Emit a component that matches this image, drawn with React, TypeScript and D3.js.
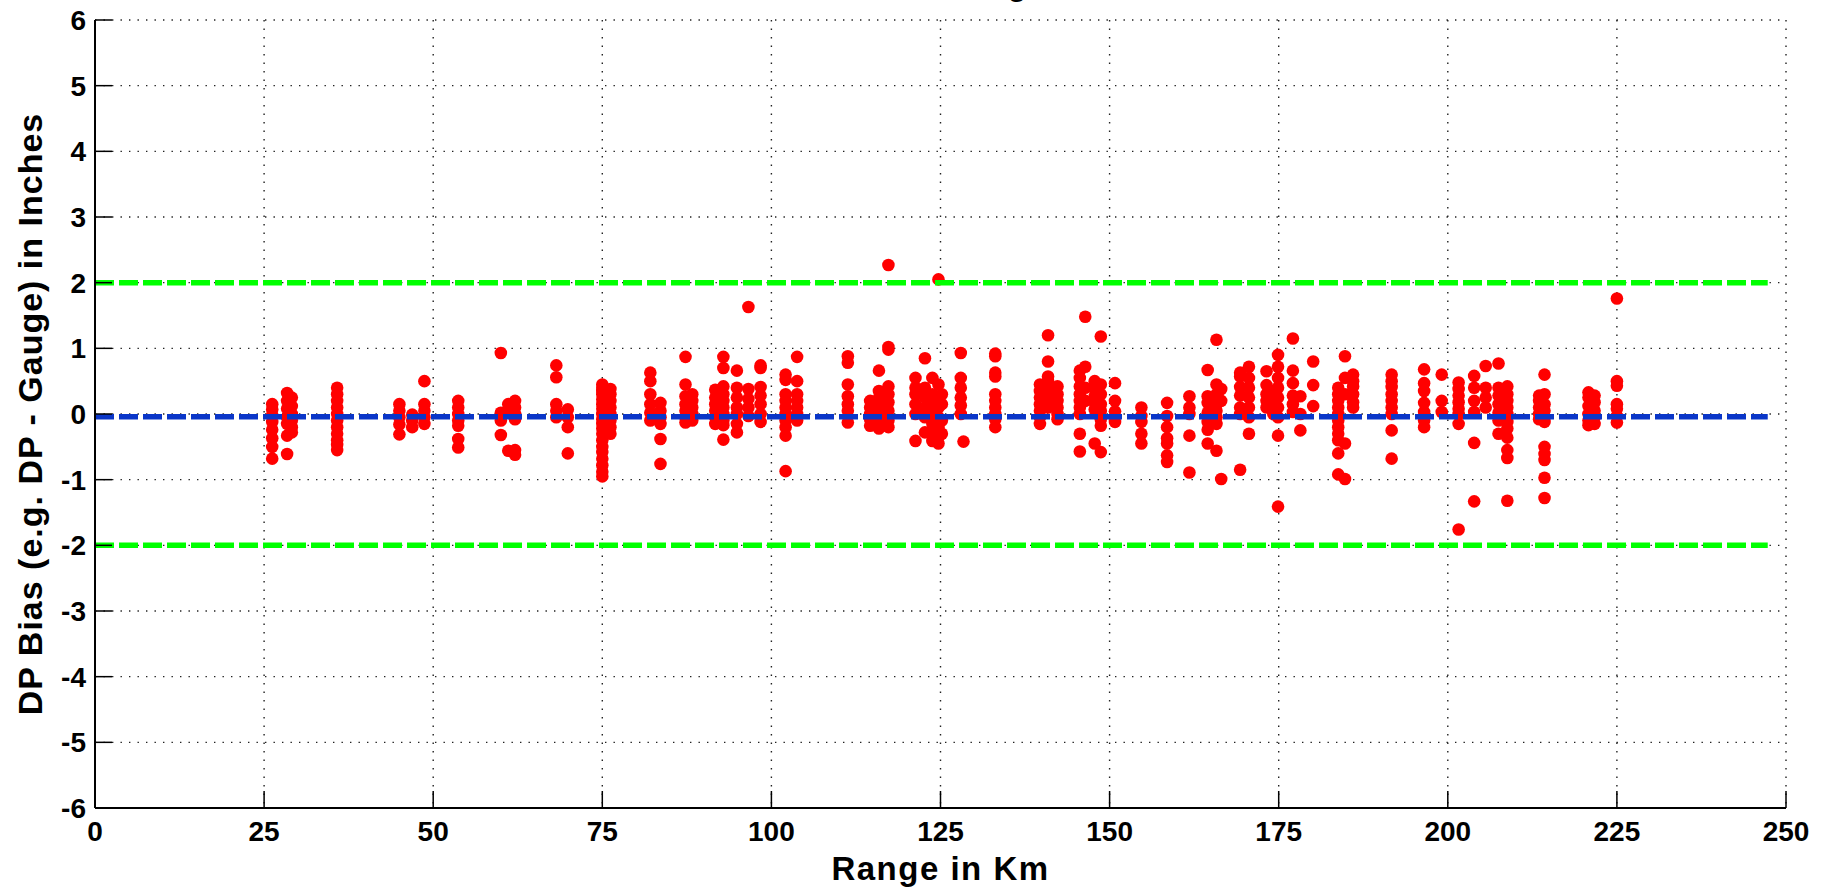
import React from "react";
import * as d3 from "d3";

// Station ranges (km) and the DP bias values (inches) observed at each
const stationRanges: number[] = [
  26.2, 28.4, 29.1, 35.8, 45.0, 46.9, 48.7, 53.7, 60.0, 61.1, 62.1, 68.2, 69.9,
  75.0, 76.2, 82.1, 83.6, 87.3, 88.3, 91.7, 92.9, 94.9, 96.6, 98.4, 102.1, 103.8,
  111.3, 114.6, 115.9, 117.3, 121.3, 122.7, 123.8, 124.7, 125.2, 128.0, 128.4, 133.1,
  139.7, 140.9, 142.3, 145.6, 146.4, 147.8, 148.7, 150.8, 154.7, 158.5, 161.8, 164.5,
  165.8, 166.5, 169.3, 170.6, 173.2, 174.2, 174.9, 177.1, 178.2, 180.1, 183.8, 184.8,
  186.0, 191.7, 196.5, 199.1, 201.6, 203.9, 205.6, 207.5, 208.8, 213.5, 214.3, 220.8,
  221.7, 225.0,
];

const stationBiases: number[][] = [
  [0.15, 0.07, -0.02, -0.12, -0.24, -0.37, -0.5, -0.68],
  [0.32, 0.2, 0.08, -0.05, -0.15, -0.33, -0.61],
  [0.25, 0.12, 0.0, -0.1, -0.2, -0.28],
  [0.4, 0.3, 0.2, 0.1, 0.0, -0.1, -0.2, -0.3, -0.4, -0.47, -0.55],
  [0.15, 0.05, -0.05, -0.16, -0.31],
  [-0.01, -0.1, -0.2],
  [0.5, 0.15, 0.05, -0.05, -0.15],
  [0.2, 0.1, 0.0, -0.1, -0.18, -0.38, -0.51],
  [0.93, 0.02, -0.1, -0.32],
  [0.15, 0.05, -0.56],
  [0.2, 0.1, 0.0, -0.08, -0.55, -0.62],
  [0.74, 0.56, 0.15, 0.05, -0.05],
  [0.07, -0.05, -0.2, -0.6],
  [0.45, 0.4, 0.35, 0.3, 0.22, 0.15, 0.08, 0.0, -0.08, -0.15, -0.22, -0.3, -0.4, -0.5, -0.58, -0.68, -0.78, -0.88, -0.95],
  [0.38, 0.3, 0.2, 0.1, 0.0, -0.1, -0.2, -0.3],
  [0.63, 0.5, 0.3, 0.15, 0.02, -0.1],
  [0.17, 0.05, -0.05, -0.15, -0.38, -0.76],
  [0.87, 0.45, 0.27, 0.15, 0.05, -0.05, -0.13],
  [0.3, 0.2, 0.1, 0.0, -0.1],
  [0.37, 0.25, 0.15, 0.05, -0.05, -0.15],
  [0.87, 0.7, 0.42, 0.3, 0.2, 0.1, 0.0, -0.1, -0.17, -0.39],
  [0.66, 0.4, 0.25, 0.1, 0.0, -0.15, -0.28],
  [1.63, 0.38, 0.23, 0.1, -0.03],
  [0.74, 0.7, 0.41, 0.28, 0.15, 0.0, -0.12],
  [0.6, 0.52, 0.3, 0.2, 0.1, 0.0, -0.1, -0.2, -0.33, -0.87],
  [0.87, 0.5, 0.3, 0.2, 0.1, 0.0, -0.1],
  [0.88, 0.78, 0.45, 0.27, 0.15, 0.05, -0.13],
  [0.2, 0.1, 0.0, -0.08, -0.18],
  [0.66, 0.35, 0.25, 0.15, 0.05, -0.05, -0.15, -0.22],
  [2.27, 1.02, 0.98, 0.42, 0.3, 0.18, 0.05, -0.1, -0.2],
  [0.55, 0.4, 0.3, 0.15, 0.0, -0.41],
  [0.85, 0.4, 0.25, 0.1, -0.05, -0.28],
  [0.55, 0.3, 0.15, 0.0, -0.15, -0.3, -0.41],
  [2.05, 0.45, 0.25, 0.1, -0.05, -0.2, -0.35, -0.45],
  [0.3, 0.15, -0.1, -0.3],
  [0.93, 0.55, 0.4, 0.25, 0.13, 0.0],
  [-0.42],
  [0.92, 0.88, 0.63, 0.57, 0.3, 0.2, 0.1, 0.0, -0.08, -0.2],
  [0.45, 0.35, 0.25, 0.15, 0.05, -0.05, -0.15],
  [1.2, 0.8, 0.57, 0.5, 0.4, 0.3, 0.2, 0.1],
  [0.42, 0.3, 0.2, 0.1, 0.0, -0.08],
  [0.66, 0.55, 0.42, 0.3, 0.2, 0.1, 0.0, -0.3, -0.57],
  [1.48, 0.72, 0.4, 0.2],
  [0.5, 0.38, 0.27, 0.17, 0.07, -0.45],
  [1.18, 0.45, 0.3, 0.15, 0.05, -0.08, -0.18, -0.58],
  [0.47, 0.2, 0.04, -0.12],
  [0.1, -0.03, -0.12, -0.3, -0.45],
  [0.17, -0.03, -0.2, -0.37, -0.45, -0.63, -0.73],
  [0.27, 0.1, 0.0, -0.33, -0.89],
  [0.67, 0.27, 0.17, 0.02, -0.12, -0.24, -0.45],
  [1.13, 0.45, 0.3, 0.15, 0.05, -0.05, -0.15, -0.56],
  [0.38, 0.2, -0.99],
  [0.63, 0.57, 0.41, 0.28, 0.1, 0.0, -0.85],
  [0.72, 0.55, 0.4, 0.25, 0.1, -0.05, -0.3],
  [0.65, 0.44, 0.3, 0.2, 0.1],
  [0.35, 0.2, 0.1, 0.0],
  [0.9, 0.72, 0.55, 0.4, 0.25, 0.1, -0.05, -0.33, -1.41],
  [1.15, 0.66, 0.47, 0.28, 0.15, 0.03],
  [0.27, 0.0, -0.25],
  [0.8, 0.44, 0.12],
  [0.4, 0.3, 0.2, 0.1, 0.0, -0.1, -0.2, -0.3, -0.4, -0.6, -0.92],
  [0.88, 0.55, 0.3, -0.45, -0.99],
  [0.6, 0.5, 0.42, 0.3, 0.18, 0.1],
  [0.6, 0.5, 0.41, 0.3, 0.2, 0.1, 0.0, -0.25, -0.68],
  [0.68, 0.47, 0.35, 0.17, 0.03, -0.1, -0.2],
  [0.6, 0.2, 0.03],
  [0.48, 0.38, 0.28, 0.18, 0.08, 0.0, -0.15, -1.76],
  [0.58, 0.4, 0.2, 0.03, -0.44, -1.33],
  [0.73, 0.4, 0.25, 0.1],
  [0.77, 0.4, 0.28, 0.15, 0.02, -0.1, -0.3],
  [0.42, 0.3, 0.2, 0.1, 0.0, -0.12, -0.22, -0.36, -0.55, -0.67, -1.32],
  [0.28, 0.2, 0.1, 0.0, -0.08],
  [0.6, 0.3, 0.15, 0.05, -0.05, -0.12, -0.5, -0.61, -0.7, -0.97, -1.28],
  [0.33, 0.25, 0.12, 0.0, -0.1, -0.17],
  [0.28, 0.18, 0.05, -0.05, -0.15],
  [1.76, 0.5, 0.43, 0.15, 0.08, -0.03, -0.13],
];

const xTicks: number[] = [0, 25, 50, 75, 100, 125, 150, 175, 200, 225, 250];
const yTicks: number[] = [-6, -5, -4, -3, -2, -1, 0, 1, 2, 3, 4, 5, 6];
const limitLevels: number[] = [2, -2];
const meanBias = -0.04;
const lineExtentKm: number[] = [0, 247.3];

const titleText = "Bias vs Range";
const xLabel = "Range in Km";
const yLabel = "DP Bias (e.g. DP - Gauge) in Inches";

const W = 1828;
const H = 888;
const FONT = "'Liberation Sans', Arial, Helvetica, sans-serif";

export default function App() {
  const x = d3.scaleLinear().domain([0, 250]).range([95, 1786]);
  const y = d3.scaleLinear().domain([-6, 6]).range([808, 20]);

  const points = stationRanges.flatMap((r, i) =>
    stationBiases[i].map((b) => ({ r, b }))
  );

  const tickLen = 17;
  const gridDash = "1.4 7.1";

  const line = d3
    .line<[number, number]>()
    .x((d) => x(d[0]))
    .y((d) => y(d[1]));

  return (
    <svg
      width={W}
      height={H}
      style={{ position: "absolute", left: 0, top: 0, background: "#fff" }}
    >
      <rect x={0} y={0} width={W} height={H} fill="#fff" />
      {/* grid */}
      <g stroke="#222" strokeWidth={1.4} strokeDasharray={gridDash}>
        {xTicks
          .filter((t) => t !== 0)
          .map((t) => (
            <line key={"gx" + t} x1={x(t)} x2={x(t)} y1={y(6)} y2={y(-6)} />
          ))}
        {yTicks
          .filter((t) => t !== -6)
          .map((t) => (
            <line key={"gy" + t} x1={x(0)} x2={x(250)} y1={y(t)} y2={y(t)} />
          ))}
      </g>
      {/* data */}
      <g fill="#ff0000">
        {points.map((p, i) => (
          <circle key={i} cx={x(p.r)} cy={y(p.b)} r={6.3} />
        ))}
      </g>
      {/* reference lines */}
      <g fill="none" strokeWidth={5.5} strokeDasharray="19 5">
        {limitLevels.map((lv) => (
          <path
            key={"lim" + lv}
            d={line(lineExtentKm.map((k) => [k, lv]) as [number, number][]) || ""}
            stroke="#00ff00"
          />
        ))}
        <path
          d={line(lineExtentKm.map((k) => [k, meanBias]) as [number, number][]) || ""}
          stroke="#0a36c8"
        />
      </g>
      {/* axes */}
      <g stroke="#000" strokeWidth={2}>
        <line x1={x(0)} x2={x(0)} y1={y(6)} y2={y(-6)} />
        <line x1={x(0)} x2={x(250)} y1={y(-6)} y2={y(-6)} />
        {xTicks.map((t) => (
          <line key={"tx" + t} x1={x(t)} x2={x(t)} y1={y(-6)} y2={y(-6) - tickLen} strokeWidth={1.5} />
        ))}
        {yTicks.map((t) => (
          <line key={"ty" + t} x1={x(0)} x2={x(0) + tickLen} y1={y(t)} y2={y(t)} strokeWidth={1.5} />
        ))}
      </g>
      <g fontFamily={FONT} fontWeight="bold" fontSize={28} fill="#000">
        {xTicks.map((t) => (
          <text key={"lx" + t} x={x(t)} y={841} textAnchor="middle">
            {t}
          </text>
        ))}
        {yTicks.map((t) => (
          <text key={"ly" + t} x={86} y={y(t) + 10} textAnchor="end">
            {t}
          </text>
        ))}
      </g>
      <text
        x={(x(0) + x(250)) / 2}
        y={880}
        textAnchor="middle"
        fontFamily={FONT}
        fontWeight="bold"
        fontSize={33}
        letterSpacing={1.5}
      >
        {xLabel}
      </text>
      <text
        transform={`translate(42, ${(y(6) + y(-6)) / 2}) rotate(-90)`}
        textAnchor="middle"
        fontFamily={FONT}
        fontWeight="bold"
        fontSize={34}
        letterSpacing={1}
      >
        {yLabel}
      </text>
      <text
        x={(x(0) + x(250)) / 2}
        y={-4}
        textAnchor="middle"
        fontFamily={FONT}
        fontWeight="bold"
        fontSize={30}
      >
        {titleText}
      </text>
    </svg>
  );
}
